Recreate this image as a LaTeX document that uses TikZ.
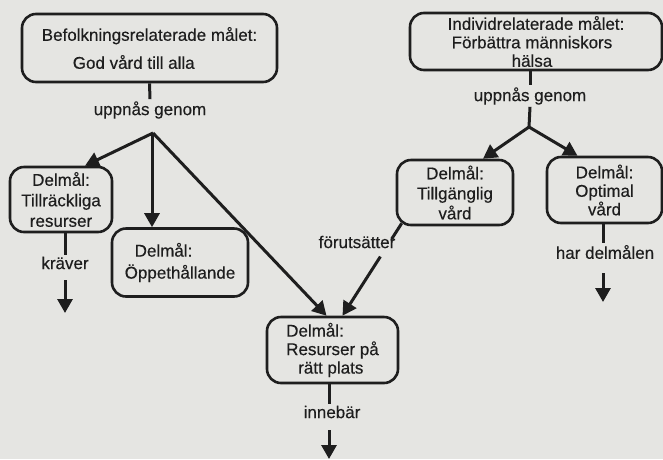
\documentclass[tikz,border=0pt]{standalone}
\usepackage{fontspec}
\setmainfont{Liberation Sans}[FakeBold=0.35]
\usetikzlibrary{arrows.meta,calc}
\definecolor{paper}{RGB}{229,229,226}
\definecolor{ink}{RGB}{30,30,30}
\begin{document}
\begin{tikzpicture}[x=1pt,y=-1pt,
  goal/.style={draw=ink, line width=2.6pt, rounded corners=14pt, text=ink,
    font=\fontsize{17}{20}\selectfont, inner sep=0pt},
  rel/.style={text=ink, font=\fontsize{17}{20}\selectfont, inner sep=2pt},
  link/.style={draw=ink, line width=3pt},
  flow/.style={link, -{Triangle[length=14pt,width=15pt]}}]
\fill[paper] (0,0) rectangle (663,459);
\useasboundingbox (0,0) rectangle (663,459);

% goal boxes
\node[goal, minimum width=255pt, minimum height=68pt, align=left] (box1) at (149.5,48)
  {Befolkningsrelaterade målet:\\[8pt]\hspace{31pt}God vård till alla};
\node[goal, minimum width=252pt, minimum height=57pt, align=left,
  font=\fontsize{17}{18.5}\selectfont] (box2) at (536,41.5)
  {Individrelaterade målet:\\\hspace{4pt}Förbättra människors\\\hspace{64pt}hälsa};
\node[goal, minimum width=102pt, minimum height=65pt, align=center,
  font=\fontsize{17}{20.5}\selectfont] (boxT) at (61,199.5)
  {Delmål:\\Tillräckliga\\resurser};
\node[goal, minimum width=136pt, minimum height=68pt, align=left] (boxO) at (180,262.5)
  {\hspace{10pt}Delmål:\\[2pt]Öppethållande};
\node[goal, minimum width=116pt, minimum height=65pt, align=center] (boxG) at (455,192.5)
  {Delmål:\\Tillgänglig\\vård};
\node[goal, minimum width=115pt, minimum height=66pt, align=center,
  font=\fontsize{17}{18.5}\selectfont] (boxP) at (604.5,190)
  {Delmål:\\Optimal\\vård};
\node[goal, minimum width=131pt, minimum height=66pt, align=left,
  font=\fontsize{17}{18.5}\selectfont] (boxR) at (332.5,350)
  {Delmål:\\Resurser på\\\hspace{12pt}rätt plats};

% relation labels
\node[rel] (l1) at (150,110) {uppnås genom};
\node[rel] (l2) at (530,96) {uppnås genom};
\node[rel] (lk) at (65,263) {kräver};
\node[rel] (lf) at (357,242) {förutsätter};
\node[rel] (li) at (332,412) {innebär};
\node[rel] (lh) at (605,252) {har delmålen};

% branch points and loose arrow ends
\coordinate (j1) at (153,133);
\coordinate (j2) at (529,127);
\coordinate (k1) at (65,280);
\coordinate (k2) at (65,313);
\coordinate (h1) at (603,273);
\coordinate (h2) at (603,302);
\coordinate (i1) at (329,430);
\coordinate (i2) at (329,459);

% left tree
\draw[link] (box1.south) -- (l1.north);
\draw[flow] (j1) -- ([xshift=24]boxT.north);
\draw[flow] (j1 -| 152,0) -- ([xshift=-28]boxO.north);
\draw[flow] (j1) -- ([xshift=-6]boxR.north);
\draw[link] (boxT.south -| lk) -- (lk.north);
\draw[flow] (k1) -- (k2);

% right tree
\draw[link] (box2.south -| l2) -- (l2.north);
\draw[link] (l2.south) -- (j2);
\draw[flow] (j2) -- ([xshift=28]boxG.north);
\draw[flow] (j2) -- ([xshift=-27]boxP.north);
\draw[link] (boxP.south -| h1) -- (lh.north -| h1);
\draw[flow] (h1) -- (h2);

% Tillgänglig vård -> Resurser på rätt plats, broken by its label
\coordinate (gA) at ([shift={(6,-3)}]boxG.south west);
\coordinate (rB) at ([xshift=10]boxR.north);
\draw[link] (gA) -- ($(gA)!0.17!(rB)$);
\draw[flow] ($(gA)!0.36!(rB)$) -- (rB);

% Resurser på rätt plats
\draw[link] (boxR.south -| i1) -- (li.north -| i1);
\draw[flow] (i1) -- (i2);
\end{tikzpicture}
\end{document}
